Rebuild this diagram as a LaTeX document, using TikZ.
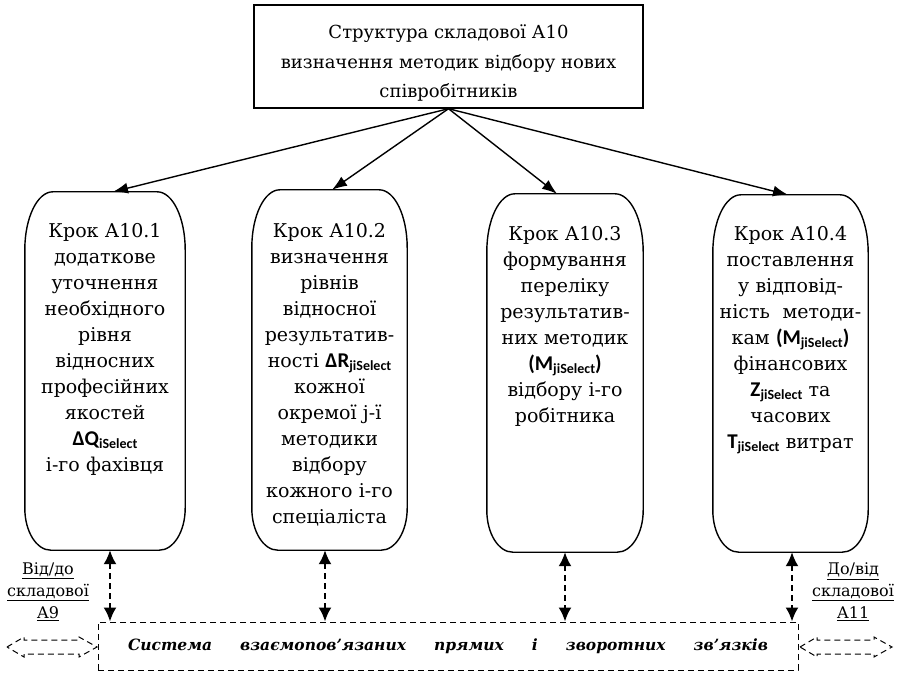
\documentclass[tikz,border=0pt]{standalone}
\usepackage{fontspec}
\setmainfont{DejaVu Serif}
\newfontfamily\calib{Carlito}
\usetikzlibrary{arrows.meta,calc}
\newcommand\mq[2]{{\calib\bfseries\fontsize{21}{21}\selectfont #1\raisebox{-0.35ex}{\fontsize{14}{14}\selectfont #2}}}
\newcommand\mqp[2]{{\calib\bfseries\fontsize{21}{21}\selectfont (#1\raisebox{-0.35ex}{\fontsize{14}{14}\selectfont #2})}}
\newcommand\roundbox[1]{%
  \draw[boxline] ([xshift=28pt]#1.north west) -- ([xshift=-28pt]#1.north east)
    arc[start angle=90,end angle=0,x radius=28pt,y radius=58pt]
    -- ([yshift=42pt]#1.south east)
    arc[start angle=0,end angle=-90,x radius=26pt,y radius=42pt]
    -- ([xshift=26pt]#1.south west)
    arc[start angle=270,end angle=180,x radius=26pt,y radius=42pt]
    -- ([yshift=-58pt]#1.north west)
    arc[start angle=180,end angle=90,x radius=28pt,y radius=58pt] -- cycle;}
\begin{document}
\begin{tikzpicture}[x=1pt,y=-1pt,
  boxline/.style={line width=1.4pt, black},
  stepshape/.style={draw=none, inner sep=0pt},
  steptext/.style={anchor=north, inner sep=0pt, text width=152pt, align=center,
    font=\fontsize{19}{26}\selectfont},
  toparrow/.style={line width=1.4pt, -{Latex[length=15pt,width=11pt]}},
  linkarrow/.style={line width=2pt, dash pattern=on 6pt off 4pt,
    {Latex[length=14pt,width=13pt]}-{Latex[length=14pt,width=13pt]}},
  sidelabel/.style={align=center, inner sep=0pt, font=\fontsize{16}{22}\selectfont},
  hollowarrow/.style={line width=1pt, dash pattern=on 6pt off 4pt}
]
\useasboundingbox (0,0) rectangle (903,674);

% top box
\node[draw, line width=1.4pt, minimum width=389pt, minimum height=103pt] (top) at (448.5,56.5) {};
\node[align=center, inner sep=0pt, font=\fontsize{18}{29.5}\selectfont] (toptext) at (448.5,63)
  {Структура складової А10\\визначення методик відбору нових\\співробітників};

% step boxes
\node[stepshape, minimum width=160pt, minimum height=358pt] (b1) at (105,371) {};
\node[stepshape, minimum width=155pt, minimum height=360pt] (b2) at (329.5,370) {};
\node[stepshape, minimum width=156pt, minimum height=358pt] (b3) at (565,373) {};
\node[stepshape, minimum width=155pt, minimum height=357pt] (b4) at (790.5,373.5) {};
\roundbox{b1}\roundbox{b2}\roundbox{b3}\roundbox{b4}

\node[steptext] (t1) at ([yshift=-31pt]b1.north) {Крок А10.1\\додаткове\\уточнення\\необхідного\\рівня\\відносних\\професійних\\якостей\\\mq{ΔQ}{iSelect}\\і-го фахівця};
\node[steptext] (t2) at ([yshift=-33pt]b2.north) {Крок А10.2\\визначення\\рівнів\\відносної\\результатив-\\ності \mq{ΔR}{jiSelect}\\кожної\\окремої j-ї\\методики\\відбору\\кожного і-го\\спеціаліста};
\node[steptext] (t3) at ([yshift=-32pt]b3.north) {Крок А10.3\\формування\\переліку\\результатив-\\них методик\\\mqp{M}{jiSelect}\\відбору і-го\\робітника};
\node[steptext] (t4) at ([yshift=-31pt]b4.north) {Крок А10.4\\поставлення\\у відповід-\\ність\ \ методи-\\кам \mqp{M}{jiSelect}\\фінансових\\\mq{Z}{jiSelect} та\\часових\\\mq{T}{jiSelect} витрат};

% arrows from top
\draw[toparrow] (top.south) -- ([xshift=8pt]b1.north);
\draw[toparrow] (top.south) -- ([xshift=2.5pt]b2.north);
\draw[toparrow] (top.south) -- ([xshift=-8pt]b3.north);
\draw[toparrow] (top.south) -- ([xshift=-2.5pt]b4.north);

% system box
\node[draw, line width=1pt, dash pattern=on 6pt off 4pt, minimum width=700pt, minimum height=48pt, inner sep=0pt] (sys) at (448,646)
  {\makebox[640pt]{\fontsize{15.5}{20}\selectfont\bfseries\itshape Система\hfill взаємопов’язаних\hfill прямих\hfill і\hfill зворотних\hfill зв’язків}};

% links
\coordinate (s1) at ([xshift=5pt]b1.south);
\coordinate (s2) at ([xshift=-4.5pt]b2.south);
\coordinate (s3) at (b3.south);
\coordinate (s4) at ([xshift=1.5pt]b4.south);
\draw[linkarrow] (s1) -- (s1 |- sys.north);
\draw[linkarrow] (s2) -- (s2 |- sys.north);
\draw[linkarrow] (s3) -- (s3 |- sys.north);
\draw[linkarrow] (s4) -- (s4 |- sys.north);

% side labels
\node[sidelabel] (lA9) at (48,592) {\underline{Від/до}\\\underline{складової}\\\underline{А9}};
\node[sidelabel] (lA11) at (853,592) {\underline{До/від}\\\underline{складової}\\\underline{А11}};

% hollow dashed double arrows
\coordinate (la) at (7,647);
\coordinate (lb) at (97,647);
\draw[hollowarrow] (la) -- ++(17,-10) -- ++(0,3) -- ++(55,0) -- ++(0,-3) -- (lb)
  -- ++(-18,10) -- ++(0,-3) -- ++(-55,0) -- ++(0,3) -- cycle;
\coordinate (ra) at (800,647);
\coordinate (rb) at (892,647);
\draw[hollowarrow] (ra) -- ++(17,-10) -- ++(0,3) -- ++(57,0) -- ++(0,-3) -- (rb)
  -- ++(-18,10) -- ++(0,-3) -- ++(-57,0) -- ++(0,3) -- cycle;
\end{tikzpicture}
\end{document}
